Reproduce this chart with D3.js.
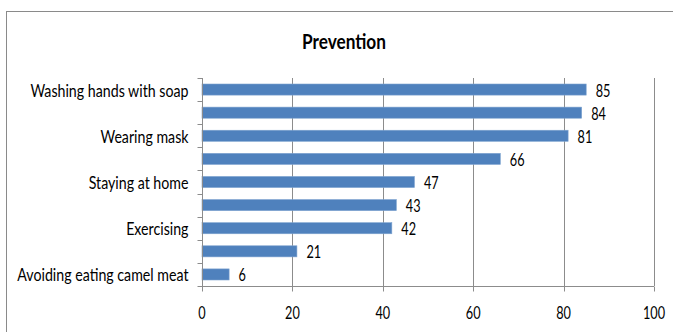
<!DOCTYPE html>
<html>
<head>
<meta charset="utf-8">
<script src="https://cdn.jsdelivr.net/npm/d3@7"></script>
<style>
  html, body { margin: 0; padding: 0; background: #fff; }
  svg text { font-family: Lato, "Open Sans", sans-serif; fill: #000; }
</style>
</head>
<body>
<svg id="chart" width="673" height="332"></svg>
<script>
// Share of respondents naming each prevention measure (%)
const categories = [
  "Washing hands with soap", "", "Wearing mask", "", "Staying at home",
  "", "Exercising", "", "Avoiding eating camel meat"
];
const values = [85, 84, 81, 66, 47, 43, 42, 21, 6];
const xTicks = [0, 20, 40, 60, 80, 100];
const title = "Prevention";

const svg = d3.select("#chart");
const margin = { left: 202, right: 19, top: 78, bottom: 46 };
const W = 673, H = 332;

// Narrow the glyphs horizontally so the text reads like a condensed face
function condense(sel, k) {
  sel.each(function () {
    const w = this.getComputedTextLength();
    if (w > 0) {
      d3.select(this).attr("textLength", w * k).attr("lengthAdjust", "spacingAndGlyphs");
    }
  });
}

// Outer chart frame
svg.append("rect")
  .attr("x", 6.5).attr("y", 11.5)
  .attr("width", 680).attr("height", 340)
  .attr("fill", "none").attr("stroke", "#8a8a8a").attr("stroke-width", 1);

svg.append("text")
  .attr("x", 344).attr("y", 49)
  .attr("text-anchor", "middle")
  .style("font-size", "21px").style("font-weight", "bold")
  .text(title)
  .call(condense, 0.82);

const x = d3.scaleLinear().domain([0, 100]).range([margin.left, W - margin.right]);
const idx = d3.range(values.length);
const y = d3.scaleBand().domain(idx).range([margin.top, H - margin.bottom]).paddingInner(0.52).paddingOuter(0.26);
const yBand = d3.scaleBand().domain(idx).range([margin.top, H - margin.bottom]);

// Vertical gridlines
svg.append("g").selectAll("line").data(xTicks.slice(1)).join("line")
  .attr("x1", d => Math.round(x(d)) + 0.5).attr("x2", d => Math.round(x(d)) + 0.5)
  .attr("y1", margin.top).attr("y2", H - margin.bottom)
  .attr("stroke", "#8c8c8c").attr("stroke-width", 1);

// Bars
svg.append("g").selectAll("rect").data(values).join("rect")
  .attr("x", x(0))
  .attr("y", (d, i) => y(i))
  .attr("width", d => x(d) - x(0))
  .attr("height", y.bandwidth())
  .attr("fill", "#4f81bd")
  .attr("stroke", "#7ea3cf").attr("stroke-width", 0.6);

// Value labels
svg.append("g").selectAll("text").data(values).join("text")
  .attr("x", d => x(d) + 9.5)
  .attr("y", (d, i) => y(i) + y.bandwidth() / 2 + 7)
  .style("font-size", "16.5px")
  .text(d => d)
  .call(condense, 0.77);

// Category axis
const yAxis = svg.append("g")
  .attr("transform", `translate(${Math.round(x(0)) + 0.5},0)`);
yAxis.append("line")
  .attr("y1", margin.top).attr("y2", H - margin.bottom)
  .attr("stroke", "#8c8c8c");
yAxis.selectAll("line.tick").data(d3.range(values.length + 1)).join("line")
  .attr("class", "tick")
  .attr("x1", -5).attr("x2", 0)
  .attr("y1", d => Math.round(margin.top + d * yBand.step()) + 0.5)
  .attr("y2", d => Math.round(margin.top + d * yBand.step()) + 0.5)
  .attr("stroke", "#8c8c8c");
yAxis.selectAll("text").data(categories).join("text")
  .attr("x", -14)
  .attr("y", (d, i) => yBand(i) + yBand.bandwidth() / 2 + 7)
  .attr("text-anchor", "end")
  .style("font-size", "16.5px")
  .text(d => d)
  .call(condense, 0.86);

// Value axis
const xAxis = svg.append("g")
  .attr("transform", `translate(0,${H - margin.bottom + 0.5})`);
xAxis.append("line")
  .attr("x1", x(0)).attr("x2", x(100))
  .attr("stroke", "#8c8c8c");
xAxis.selectAll("line.tick").data(xTicks).join("line")
  .attr("class", "tick")
  .attr("x1", d => Math.round(x(d)) + 0.5).attr("x2", d => Math.round(x(d)) + 0.5)
  .attr("y1", 0).attr("y2", 5)
  .attr("stroke", "#8c8c8c");
xAxis.selectAll("text").data(xTicks).join("text")
  .attr("x", d => x(d))
  .attr("y", 32)
  .attr("text-anchor", "middle")
  .style("font-size", "16.5px")
  .text(d => d)
  .call(condense, 0.77);
</script>
</body>
</html>
